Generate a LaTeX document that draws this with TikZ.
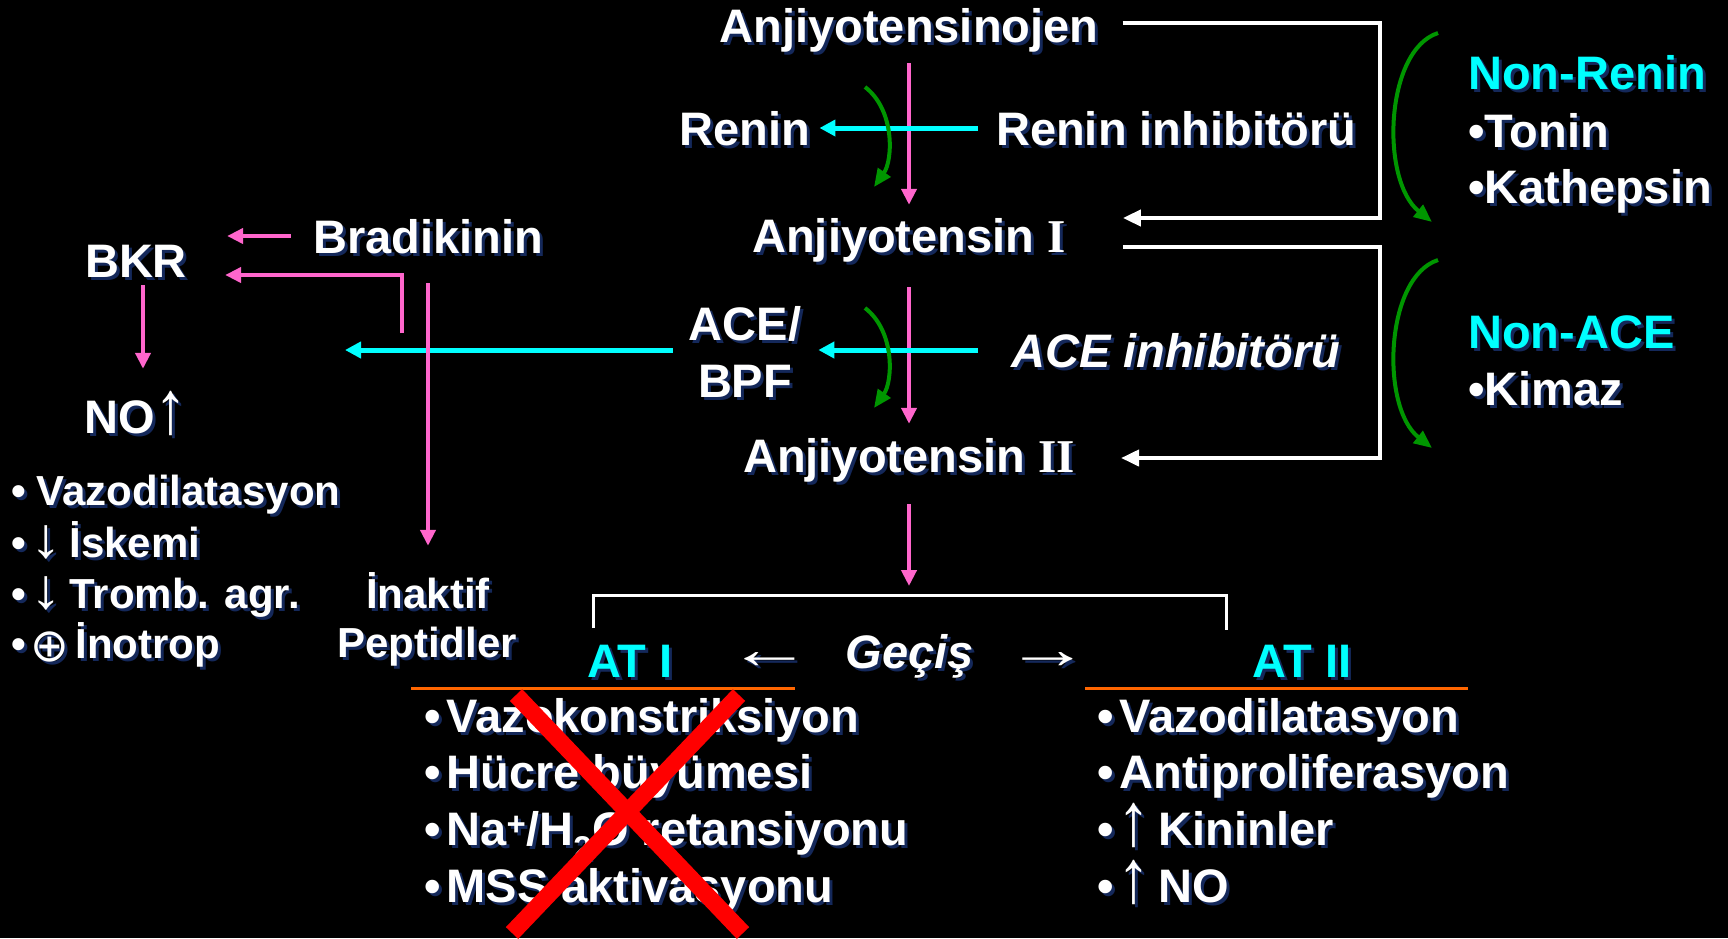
\documentclass[tikz,border=0pt]{standalone}
\usepackage{graphicx}
\usepackage{fontspec}
\setmainfont{Liberation Sans}
\newfontfamily\serifnum{Liberation Serif}
\newfontfamily\symf{DejaVu Sans}
\usetikzlibrary{arrows.meta}
\definecolor{pk}{RGB}{255,102,204}
\definecolor{cy}{RGB}{0,255,255}
\definecolor{gr}{RGB}{0,150,0}
\definecolor{orng}{RGB}{255,102,0}
\definecolor{shd}{RGB}{20,40,90}
\newcommand\shd[1]{\leavevmode\rlap{\kern3pt\raisebox{-3pt}{\textcolor{shd}{#1}}}#1}
\newcommand\bigup{\scalebox{1.4}[1.6]{\mdseries ↑}}
\newcommand\smdown{\scalebox{1.5}[1.35]{\mdseries ↓}}
\newcommand\oplussym{\raisebox{-3pt}{\scalebox{1.1}{\symf\mdseries ⊕}}}
\newcommand\wideleft{\scalebox{1.8}[1.2]{\mdseries ←}}
\newcommand\wideright{\scalebox{1.8}[1.2]{\mdseries →}}
\begin{document}
\begin{tikzpicture}[x=1pt,y=-1pt,
  txt/.style={inner sep=0pt, text=white, font=\bfseries\fontsize{47}{56}\selectfont, text height=34pt, text depth=0pt},
  sm/.style={txt, font=\bfseries\fontsize{42}{50}\selectfont, text height=30pt},
  cyt/.style={txt, text=cy},
  itx/.style={txt, font=\bfseries\itshape\fontsize{47}{56}\selectfont},
  pkarr/.style={draw=pk, line width=4.5pt, -{Triangle[length=16pt,width=15pt]}},
  cyarr/.style={draw=cy, line width=5pt, -{Triangle[length=16pt,width=16pt]}},
  wline/.style={draw=white, line width=4pt},
  warr/.style={wline, -{Triangle[length=18pt,width=16pt]}},
  grarr/.style={draw=gr, line width=4pt, -{Triangle[length=18pt,width=15pt]}},
  orl/.style={draw=orng, line width=3pt},
  redx/.style={draw=red, line width=17pt}
]
\fill[black] (0,0) rectangle (1728,938);
\useasboundingbox (0,0) rectangle (1728,938);

% central column
\node[txt] (aog) at (909,25) {\shd{Anjiyotensinojen}};
\node[txt] (renin) at (745,128) {\shd{Renin}};
\node[txt,anchor=west] (rinh) at (996,128) {\shd{Renin inhibitörü}};
\node[txt] (a1) at (909,235) {\shd{Anjiyotensin {\serifnum I}}};
\node[txt] (ace1) at (745,323) {\shd{ACE/}};
\node[txt] (ace2) at (745,380) {\shd{BPF}};
\node[itx,anchor=west] (aceinh) at (1011,350) {\shd{ACE inhibitörü}};
\node[txt] (a2) at (909,455) {\shd{Anjiyotensin {\serifnum II}}};

% right column
\node[cyt,anchor=base west] (nr) at (1468,89) {\shd{Non-Renin}};
\node[txt,anchor=base west] (ton) at (1468,147) {\shd{•Tonin}};
\node[txt,anchor=base west] (kat) at (1468,203) {\shd{•Kathepsin}};
\node[cyt,anchor=base west] (nace) at (1468,348) {\shd{Non-ACE}};
\node[txt,anchor=base west] (kim) at (1468,405) {\shd{•Kimaz}};

% left part
\node[txt] (bkr) at (136,260) {\shd{BKR}};
\node[txt] (brad) at (428,236) {\shd{Bradikinin}};
\node[txt,anchor=base] (no) at (136,433) {\shd{NO\bigup}};
\node[sm,anchor=base west] (l1) at (11,505) {\shd{•\kern11pt Vazodilatasyon}};
\node[sm,anchor=base west] (l2) at (11,557) {\shd{•\kern5pt\smdown\kern7pt İskemi}};
\node[sm,anchor=base west] (l3) at (11,608) {\shd{•\kern5pt\smdown\kern7pt Tromb. agr.}};
\node[sm,anchor=base west] (l4) at (11,658) {\shd{•\kern5pt\oplussym\kern6pt İnotrop}};
\node[sm,anchor=base] (inak) at (428,608) {\shd{İnaktif}};
\node[sm,anchor=base] (pep) at (427,657) {\shd{Peptidler}};

% bottom
\node[cyt] (at1) at (630,660) {\shd{AT I}};
\node[itx] (gec) at (910,651) {\shd{Geçiş}};
\node[txt,anchor=base] (la) at (770,668) {\shd{\wideleft}};
\node[txt,anchor=base] (ra) at (1048,668) {\shd{\wideright}};
\node[cyt] (at2) at (1302,660) {\shd{AT II}};

\node[txt,anchor=base west] (v1) at (424,732) {\shd{•\kern6pt Vazokonstriksiyon}};
\node[txt,anchor=base west] (h1) at (424,788) {\shd{•\kern6pt Hücre büyümesi}};
\node[txt,anchor=base west] (n1) at (424,845) {\shd{•\kern6pt Na\textsuperscript{+}/H\textsubscript{2}O retansiyonu}};
\node[txt,anchor=base west] (m1) at (424,902) {\shd{•\kern6pt MSS aktivasyonu}};
\node[txt,anchor=base west] (v2) at (1097,732) {\shd{•\kern6pt Vazodilatasyon}};
\node[txt,anchor=base west] (ap) at (1097,788) {\shd{•\kern6pt Antiproliferasyon}};
\node[txt,anchor=base west] (kn) at (1097,845) {\shd{•\kern4pt\bigup\kern8pt Kininler}};
\node[txt,anchor=base west] (no2) at (1097,902) {\shd{•\kern4pt\bigup\kern8pt NO}};

% coordinates
\coordinate (c1) at (1380,218);
\coordinate (c2) at (1380,458);
\coordinate (brtop) at (909,595);
\coordinate (cyend) at (345,350);
\coordinate (pk2s) at (402,333);

% pink main flow
\draw[pkarr] ([yshift=-21pt]aog.south) -- ([yshift=13pt]a1.north);
\draw[pkarr] ([yshift=-35pt]a1.south) -- ([yshift=14pt]a2.north);
\draw[pkarr] ([yshift=-32pt]a2.south) -- ([yshift=9pt]brtop);

% cyan
\draw[cyarr] ([xshift=-18pt]rinh.west) -- ([xshift=9pt]renin.east);
\draw[cyarr] ([xshift=-33pt]aceinh.west) -- ([xshift=17pt]aceinh.west -| ace1.east);
\draw[cyarr] ([xshift=-16pt]ace1.west |- aceinh.west) -- (cyend);

% pink left
\draw[pkarr] ([xshift=-22pt]brad.west) -- ([xshift=40pt]bkr.east |- brad.west);
\draw[pkarr] (pk2s) |- ([xshift=38pt,yshift=-15pt]bkr.east);
\draw[pkarr] ([yshift=-30pt]brad.south) -- ([yshift=32pt]inak.north);
\draw[pkarr] ([xshift=7pt,yshift=-8pt]bkr.south) -- ([xshift=7pt,yshift=30pt]no.north);

% white brackets
\draw[warr] ([xshift=24pt,yshift=2pt]aog.east) -| (c1) -- ([xshift=57pt,yshift=17pt]a1.east);
\draw[warr] ([xshift=57pt,yshift=-12pt]a1.east) -| (c2) -- ([xshift=46pt,yshift=-3pt]a2.east);

% green arcs
\draw[grarr] (1438,33) .. controls (1385,50) and (1380,180) .. (1432,222);
\draw[grarr] (1438,260) .. controls (1385,277) and (1380,407) .. (1432,448);
\draw[grarr] (865,87) .. controls (895,110) and (893,160) .. (874,187);
\draw[grarr] (865,308) .. controls (895,331) and (893,381) .. (874,408);

% bottom bracket and underlines
\draw[wline,line width=3pt] (593,628) -- (593,595) -- (1226,595) -- (1226,630);
\draw[orl] (411,688) -- (795,688);
\draw[orl] (1085,688) -- (1468,688);

% red cross
\draw[redx] (516,695) -- (743,933);
\draw[redx] (739,695) -- (512,933);
\end{tikzpicture}
\end{document}
